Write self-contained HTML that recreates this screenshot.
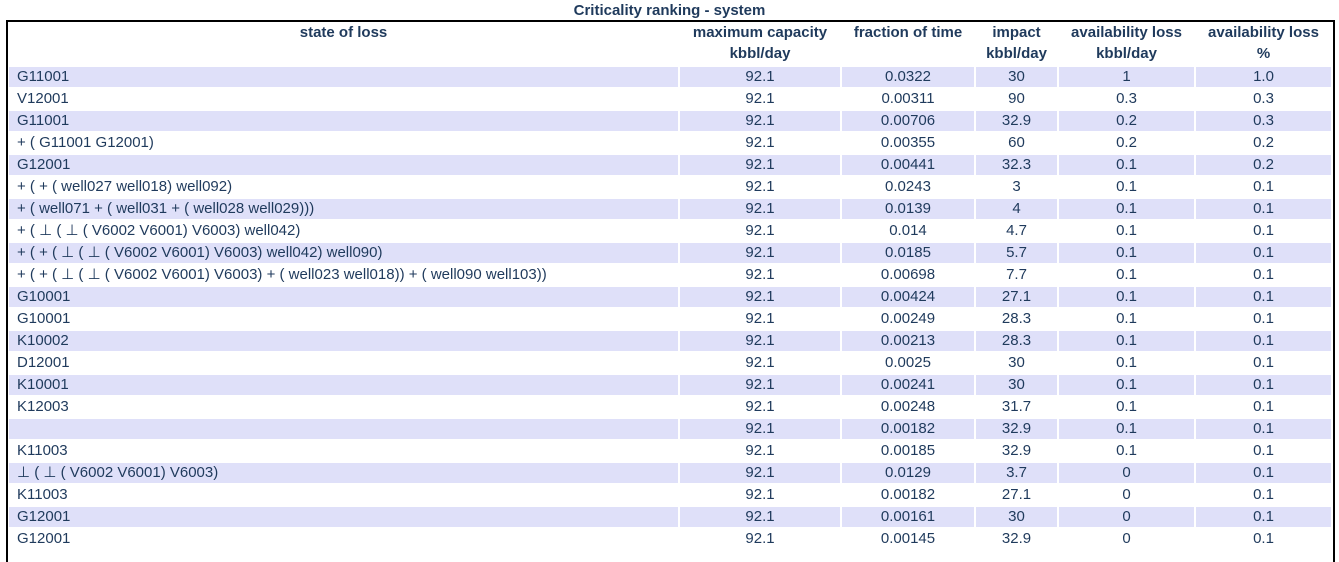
<!DOCTYPE html>
<html><head><meta charset="utf-8"><style>
body{margin:0;width:1339px;height:555px;overflow:hidden;background:#fff;font-family:"Liberation Sans",sans-serif;color:#1f3a5c;position:relative}
#title{position:absolute;left:0;width:1339px;top:2px;text-align:center;font-weight:bold;font-size:15px;line-height:18px}
#frame{position:absolute;left:6px;top:20px;width:1325px;height:540px;border:2px solid #000;border-bottom:none}
.c{position:absolute;height:20px;line-height:20px;font-size:15px;white-space:nowrap;overflow:hidden}
.h{position:absolute;font-weight:bold;font-size:15px;line-height:21px;text-align:center}
.sh{background:#dfe0f9}
</style></head><body>
<div id="title">Criticality ranking - system</div>
<div id="frame"></div>
<div id="t"></div>
<script>
const states=["G11001","V12001","G11001","+ ( G11001 G12001)","G12001","+ ( + ( well027 well018) well092)","+ ( well071 + ( well031 + ( well028 well029)))","+ ( ⊥ ( ⊥ ( V6002 V6001) V6003) well042)","+ ( + ( ⊥ ( ⊥ ( V6002 V6001) V6003) well042) well090)","+ ( + ( ⊥ ( ⊥ ( V6002 V6001) V6003) + ( well023 well018)) + ( well090 well103))","G10001","G10001","K10002","D12001","K10001","K12003","","K11003","⊥ ( ⊥ ( V6002 V6001) V6003)","K11003","G12001","G12001"];
const capacity=["92.1","92.1","92.1","92.1","92.1","92.1","92.1","92.1","92.1","92.1","92.1","92.1","92.1","92.1","92.1","92.1","92.1","92.1","92.1","92.1","92.1","92.1"];
const fraction=["0.0322","0.00311","0.00706","0.00355","0.00441","0.0243","0.0139","0.014","0.0185","0.00698","0.00424","0.00249","0.00213","0.0025","0.00241","0.00248","0.00182","0.00185","0.0129","0.00182","0.00161","0.00145"];
const impact=["30","90","32.9","60","32.3","3","4","4.7","5.7","7.7","27.1","28.3","28.3","30","30","31.7","32.9","32.9","3.7","27.1","30","32.9"];
const lossK=["1","0.3","0.2","0.2","0.1","0.1","0.1","0.1","0.1","0.1","0.1","0.1","0.1","0.1","0.1","0.1","0.1","0.1","0","0","0","0"];
const lossP=["1.0","0.3","0.3","0.2","0.2","0.1","0.1","0.1","0.1","0.1","0.1","0.1","0.1","0.1","0.1","0.1","0.1","0.1","0.1","0.1","0.1","0.1"];
const cols=[[9,669,'left'],[680,160,'center'],[842,132,'center'],[976,81,'center'],[1059,135,'center'],[1196,135,'center']];
const heads=["state of loss","maximum capacity<br>kbbl/day","fraction of time","impact<br>kbbl/day","availability loss<br>kbbl/day","availability loss<br>%"];
const hnames=['header-state','header-capacity','header-fraction','header-impact','header-loss-kbbl','header-loss-pct'];
const t=document.getElementById('t');
heads.forEach((h,i)=>{const d=document.createElement('div');d.className='h';


d.style.left=cols[i][0]+'px';d.style.width=cols[i][1]+'px';d.style.top='22px';d.innerHTML=h;t.appendChild(d);});
const data=[states,capacity,fraction,impact,lossK,lossP];
const cn=['state-cell','capacity-cell','fraction-cell','impact-cell','loss-kbbl-cell','loss-pct-cell'];
for(let r=0;r<states.length;r++){for(let c=0;c<6;c++){const d=document.createElement('div');d.className='c'+(r%2==0?' sh':'');


d.style.left=cols[c][0]+'px';d.style.width=cols[c][1]+'px';d.style.top=(67+r*22)+'px';d.style.textAlign=cols[c][2];
if(c==0)d.style.paddingLeft='8px',d.style.width=(cols[c][1]-8)+'px';
d.textContent=data[c][r];t.appendChild(d);}}
</script>
</body></html>
